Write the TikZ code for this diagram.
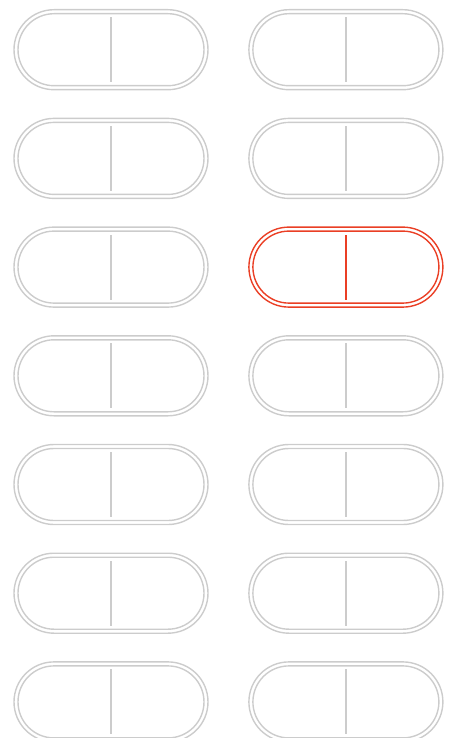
\documentclass[tikz,border=0pt]{standalone}
\definecolor{capgray}{HTML}{CCCCCC}
\definecolor{capred}{HTML}{EA3F25}
\tikzset{
  capouter/.style={rectangle, rounded corners=40pt, minimum width=194pt, minimum height=80pt, inner sep=0pt, draw=#1, line width=1.4pt},
  capinner/.style={rectangle, rounded corners=36pt, minimum width=186pt, minimum height=72pt, inner sep=0pt, draw=#1, line width=1.4pt},
  capdiv/.style={rectangle, minimum width=1.6pt, minimum height=65pt, inner sep=0pt, fill=#1, draw=none}
}
\begin{document}
\begin{tikzpicture}[x=1pt,y=-1pt]
\useasboundingbox (0,0) rectangle (452,738);
\clip (0,0) rectangle (452,738);
\foreach \r in {0,...,6}{
  \foreach \c/\cx in {0/111,1/345.9}{
    \pgfmathsetmacro{\cy}{49.7+108.7*\r}
    \ifnum\r=2 \ifnum\c=1 \def\col{capred}\else\def\col{capgray}\fi\else\def\col{capgray}\fi
    \node[capouter=\col] (o\r\c) at (\cx,\cy) {};
    \node[capinner=\col] (i\r\c) at (\cx,\cy) {};
    \node[capdiv=\col] (d\r\c) at (i\r\c.center) {};
  }
}
\end{tikzpicture}
\end{document}
